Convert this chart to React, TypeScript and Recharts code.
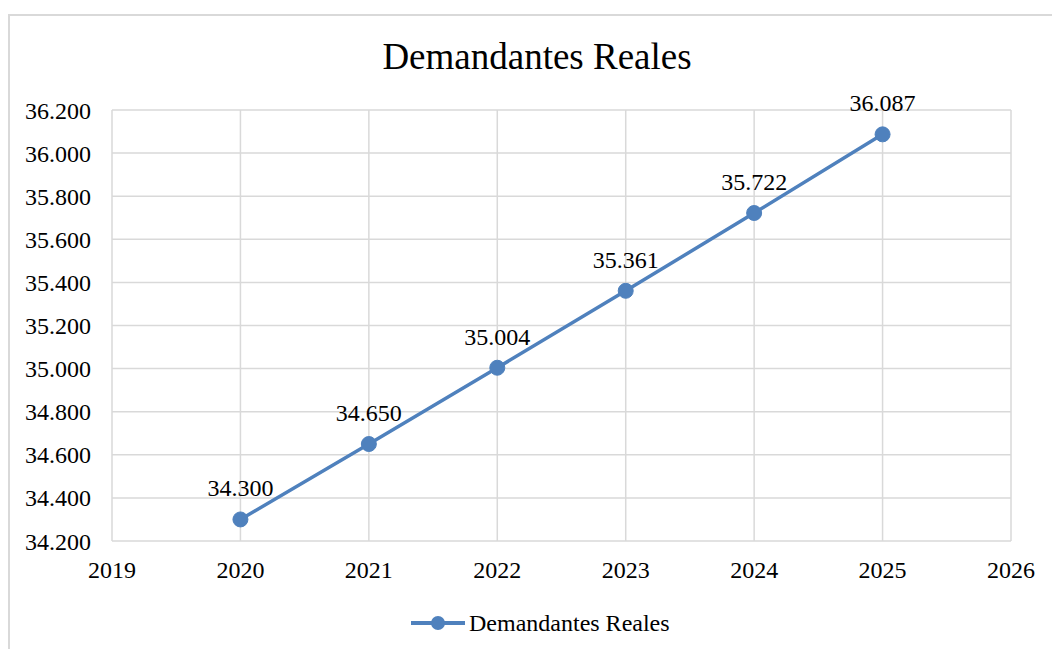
import React from "react";
import { LineChart, Line, XAxis, YAxis, CartesianGrid, LabelList, Legend } from "recharts";

const years = [2020, 2021, 2022, 2023, 2024, 2025];
const demandantes = [34300, 34650, 35004, 35361, 35722, 36087];
const xTicks = [2019, 2020, 2021, 2022, 2023, 2024, 2025, 2026];
const yTicks = [34200, 34400, 34600, 34800, 35000, 35200, 35400, 35600, 35800, 36000, 36200];
const seriesName = "Demandantes Reales";
const title = "Demandantes Reales";

const data = years.map((y, i) => ({ year: y, value: demandantes[i] }));

const BLUE = "#4f81bd";
const GRID = "#d9d9d9";
const FONT = "'Liberation Serif', 'Times New Roman', serif";

function fmt(n: number): string {
  const v = Math.round(n);
  const th = Math.floor(v / 1000);
  const rest = String(v % 1000).padStart(3, "0");
  return `${th}.${rest}`;
}

const LegendContent = () => (
  <div style={{ display: "flex", alignItems: "center", fontFamily: FONT, fontSize: 24, color: "#000" }}>
    <svg width={56} height={20} style={{ display: "block" }}>
      <line x1={1} y1={10} x2={55} y2={10} stroke={BLUE} strokeWidth={4} />
      <circle cx={28} cy={10} r={7} fill={BLUE} />
    </svg>
    <span style={{ marginLeft: 3, lineHeight: "24px" }}>{seriesName}</span>
  </div>
);

export default function App() {
  return (
    <div style={{ position: "absolute", left: 0, top: 0, width: 1052, height: 649, overflow: "hidden", background: "#fff" }}>
      <style>{`.recharts-wrapper text, .recharts-wrapper tspan { font-family: 'Liberation Serif', 'Times New Roman', serif !important; }`}</style>
      <div style={{ position: "absolute", left: 8, top: 14, width: 1100, height: 700, border: `2px solid ${GRID}`, boxSizing: "border-box" }} />
      <div style={{ position: "absolute", left: 0, top: 38, width: 1074, textAlign: "center", fontFamily: FONT, fontSize: 37, lineHeight: "37px", color: "#000" }}>
        {title}
      </div>
      <div style={{ position: "absolute", left: 0, top: 0 }}>
        <LineChart width={1052} height={649} data={data} margin={{ top: 110, right: 41, bottom: 78, left: 0 }} style={{ fontFamily: FONT }}>
          <CartesianGrid stroke={GRID} strokeWidth={1.5} />
          <XAxis
            dataKey="year"
            type="number"
            domain={[2019, 2026]}
            ticks={xTicks}
            interval={0}
            axisLine={false}
            tickLine={false}
            tickSize={0}
            tickMargin={20}
            height={30}
            tick={{ fill: "#000", fontSize: 24, fontFamily: FONT }}
          />
          <YAxis
            type="number"
            domain={[34200, 36200]}
            ticks={yTicks}
            interval={0}
            width={112}
            axisLine={false}
            tickLine={false}
            tickSize={0}
            tickMargin={21}
            tickFormatter={fmt}
            tick={{ fill: "#000", fontSize: 24, fontFamily: FONT }}
          />
          <Legend
            layout="horizontal"
            verticalAlign="middle"
            align="center"
            content={LegendContent}
            wrapperStyle={{ left: 410, top: 611, width: 300 }}
          />
          <Line
            type="linear"
            dataKey="value"
            name={seriesName}
            stroke={BLUE}
            strokeWidth={3.5}
            dot={{ r: 7.5, fill: BLUE, stroke: BLUE, strokeWidth: 1 }}
            activeDot={false}
            isAnimationActive={false}
          >
            <LabelList
              dataKey="value"
              position="top"
              offset={23}
              formatter={(v: any) => fmt(Number(v))}
              style={{ fill: "#000", fontSize: 24, fontFamily: FONT }}
            />
          </Line>
        </LineChart>
      </div>
    </div>
  );
}
